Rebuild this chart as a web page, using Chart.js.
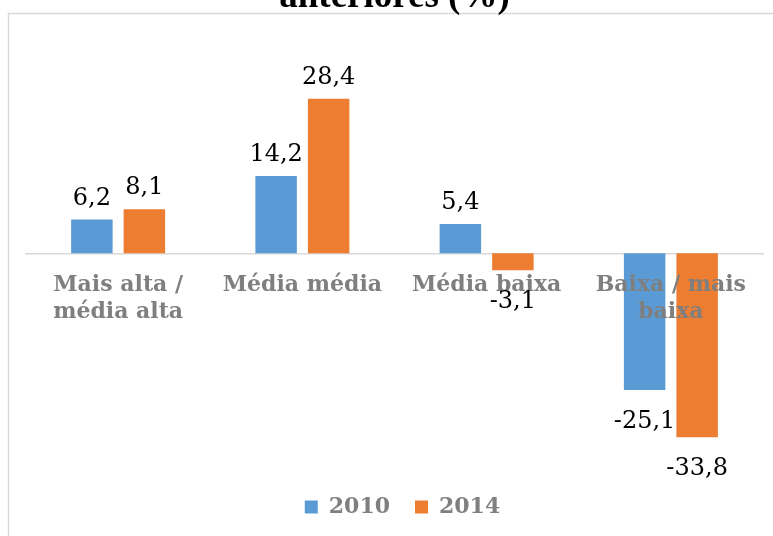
<!DOCTYPE html>
<html>
<head>
<meta charset="utf-8">
<script src="https://cdn.jsdelivr.net/npm/chart.js@4/dist/chart.umd.min.js"></script>
<style>
  html, body { margin: 0; padding: 0; background: #ffffff; }
  #wrap { position: relative; width: 773px; height: 536px; }
</style>
</head>
<body>
<div id="wrap"><canvas id="c" width="773" height="536"></canvas></div>
<script>
const titleText = 'anteriores (%)';
const categories = [['Mais alta /', 'média alta'], 'Média média', 'Média baixa', ['Baixa / mais', 'baixa']];
const seriesNames = ['2010', '2014'];
const values2010 = [6.2, 14.2, 5.4, -25.1];
const values2014 = [8.1, 28.4, -3.1, -33.8];
const seriesColors = ['#5B9BD5', '#ED7D31'];

const framePlugin = {
  id: 'frame',
  beforeDraw(chart) {
    const ctx = chart.ctx;
    ctx.save();
    ctx.strokeStyle = '#d9d9d9';
    ctx.lineWidth = 1.5;
    ctx.beginPath();
    ctx.moveTo(8.5, chart.height + 2);
    ctx.lineTo(8.5, 13.5);
    ctx.lineTo(chart.width + 2, 13.5);
    ctx.stroke();
    ctx.restore();
  },
  afterLayout(chart) {
    if (chart.legend) {
      chart.legend.left += 8;
      chart.legend.right += 8;
    }
  }
};

const labelPlugin = {
  id: 'valueLabels',
  afterDraw(chart) {
    const ctx = chart.ctx;
    ctx.save();
    ctx.font = '24px "DejaVu Serif", serif';
    ctx.fillStyle = '#000000';
    ctx.textAlign = 'center';
    chart.data.datasets.forEach((ds, di) => {
      const meta = chart.getDatasetMeta(di);
      meta.data.forEach((bar, i) => {
        const v = ds.data[i];
        const txt = v.toFixed(1).replace('.', ',');
        if (v >= 0) {
          ctx.textBaseline = 'alphabetic';
          ctx.fillText(txt, bar.x, bar.y - 15);
        } else {
          ctx.textBaseline = 'top';
          ctx.fillText(txt, bar.x, bar.y + 20);
        }
      });
    });
    ctx.restore();
  }
};

new Chart(document.getElementById('c'), {
  type: 'bar',
  data: {
    labels: categories,
    datasets: [
      { label: seriesNames[0], data: values2010, backgroundColor: seriesColors[0], borderWidth: 0 },
      { label: seriesNames[1], data: values2014, backgroundColor: seriesColors[1], borderWidth: 0 }
    ]
  },
  options: {
    responsive: false,
    animation: false,
    events: [],
    layout: { padding: { top: 0, left: 26, right: 10, bottom: 8 } },
    datasets: { bar: { categoryPercentage: 0.57, barPercentage: 0.79 } },
    scales: {
      x: {
        position: { y: 0 },
        grid: { display: false, drawTicks: false },
        border: { display: true, color: '#d9d9d9', width: 1.5 },
        ticks: {
          z: 1,
          color: '#7f7f7f',
          font: { family: '"DejaVu Serif", serif', size: 22, weight: 'bold', lineHeight: 1.23 },
          padding: 18,
          maxRotation: 0,
          autoSkip: false
        }
      },
      y: {
        display: false,
        min: -40,
        max: 30
      }
    },
    plugins: {
      title: {
        display: true,
        text: titleText,
        color: '#000000',
        font: { family: '"Liberation Serif", serif', size: 37, weight: 'bold', lineHeight: 1.2 },
        padding: { top: -25, bottom: 70.6 }
      },
      legend: {
        position: 'bottom',
        labels: {
          boxWidth: 13,
          boxHeight: 13,
          padding: 25,
          color: '#7f7f7f',
          font: { family: '"DejaVu Serif", serif', size: 22, weight: 'bold' }
        }
      },
      tooltip: { enabled: false }
    }
  },
  plugins: [framePlugin, labelPlugin]
});
</script>
</body>
</html>
